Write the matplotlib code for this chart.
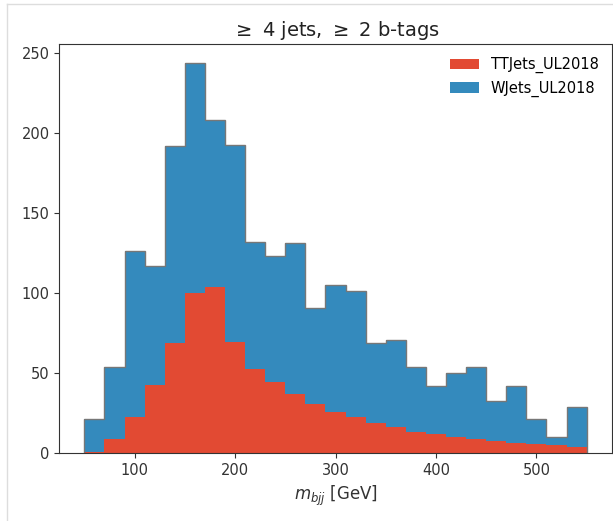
import numpy as np
import matplotlib
matplotlib.use("Agg")
import matplotlib.pyplot as plt
from matplotlib.lines import Line2D

# Data
bin_edges = np.arange(50, 551, 20)
tt_counts = [1, 8.9, 22.8, 42.4, 68.7, 100.2, 104, 69.3, 52.4, 44.5, 37, 30.8, 26,
             22.7, 18.7, 16.2, 13.3, 11.8, 10, 8.7, 7.5, 6.6, 5.8, 5, 4.1]
wj_counts = [20.2, 44.8, 103.7, 74.5, 123.1, 143.6, 103.9, 123.1, 79.3, 78.7, 94.5,
             59.9, 78.9, 78.8, 50.3, 54.5, 40.4, 30.2, 40.3, 45, 25.3, 35.4, 15.4, 5.4, 25]
labels = ["TTJets_UL2018", "WJets_UL2018"]
colors = ["#E24A33", "#348ABD"]

centers = 0.5 * (bin_edges[:-1] + bin_edges[1:])

fig = plt.figure(figsize=(6.13, 5.21), dpi=100)
ax = fig.add_axes([0.0967, 0.13, 0.9013, 0.7855])

ax.hist([centers, centers], bins=bin_edges, weights=[tt_counts, wj_counts],
        stacked=True, histtype="stepfilled", color=colors, label=labels)
total = np.array(tt_counts) + np.array(wj_counts)
ax.hist(centers, bins=bin_edges, weights=total, histtype="step",
        color="#777777", linewidth=1.0)

ax.set_xlim(25, 575)
ax.set_ylim(0, 255.5)
ax.set_xticks([100, 200, 300, 400, 500])
ax.set_yticks([0, 50, 100, 150, 200, 250])
ax.tick_params(labelsize=10.5, colors="#333333", labelcolor="#333333")
for s in ax.spines.values():
    s.set_color("#333333")
ax.set_xlabel(r"$m_{bjj}$ [GeV]", fontsize=12, color="#333333")
ax.set_title(r"$\geq$ 4 jets, $\geq$ 2 b-tags", fontsize=14, color="#222222")
handles, labs = ax.get_legend_handles_labels()
order = [labs.index(l) for l in labels]
ax.legend([handles[i] for i in order], [labs[i] for i in order],
          loc="upper right", frameon=False, fontsize=10.5)

# screenshot frame
fig.add_artist(Line2D([7/613, 7/613], [0, 1-4/521], transform=fig.transFigure,
                      color="#dddddd", linewidth=1))
fig.add_artist(Line2D([7/613, 1], [1-4/521, 1-4/521], transform=fig.transFigure,
                      color="#dddddd", linewidth=1))

fig.savefig("out.png", dpi=100)
